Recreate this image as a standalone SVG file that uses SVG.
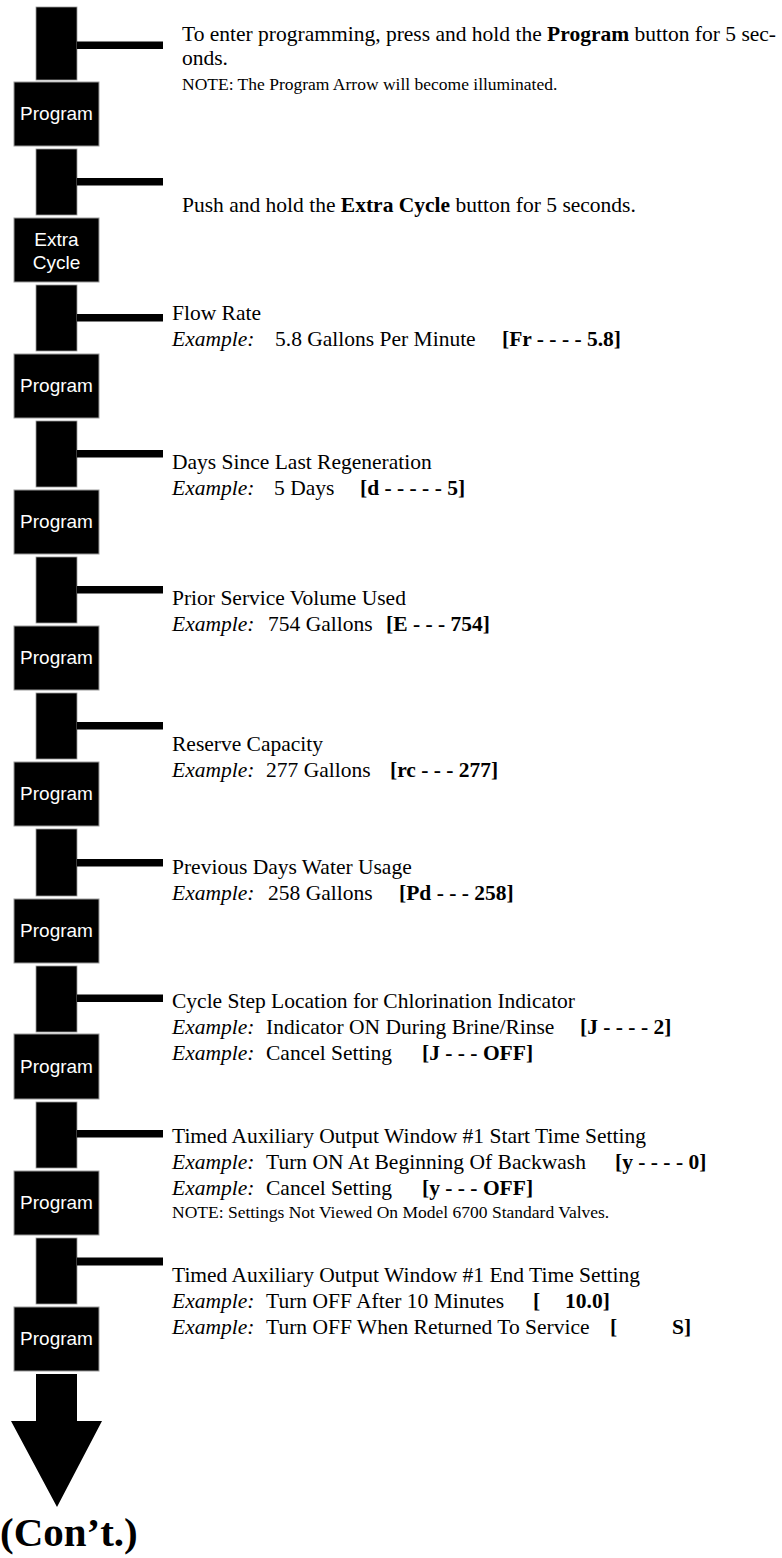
<svg xmlns="http://www.w3.org/2000/svg" width="782" height="1558" viewBox="0 0 782 1558">
<style>
.stem{fill:#000;stroke:#999;stroke-width:0.8}
.box{fill:#000;stroke:#999;stroke-width:1}
.bar{fill:#000}
.btn{font-family:"Liberation Sans",Arial,sans-serif;font-size:19px;fill:#fff;text-anchor:middle}
.t{font-family:"Liberation Serif","Times New Roman",serif;font-size:21.5px;fill:#000}
.n{font-family:"Liberation Serif","Times New Roman",serif;font-size:17.5px;fill:#000}
.i{font-style:italic}
.b{font-weight:bold}
</style>
<rect width="782" height="1558" fill="#fff"/>
<g id="connectors">
<rect class="stem" x="36" y="7" width="41" height="73"/>
<rect class="bar" x="77" y="41.5" width="86" height="7.5"/>
<rect class="stem" x="36" y="149" width="41" height="66"/>
<rect class="bar" x="77" y="178" width="86" height="7.5"/>
<rect class="stem" x="36" y="285" width="41" height="66"/>
<rect class="bar" x="77" y="314" width="86" height="7.5"/>
<rect class="stem" x="36" y="421" width="41" height="66"/>
<rect class="bar" x="77" y="450" width="86" height="7.5"/>
<rect class="stem" x="36" y="557" width="41" height="66"/>
<rect class="bar" x="77" y="586" width="86" height="7.5"/>
<rect class="stem" x="36" y="693" width="41" height="66"/>
<rect class="bar" x="77" y="722" width="86" height="7.5"/>
<rect class="stem" x="36" y="829" width="41" height="67"/>
<rect class="bar" x="77" y="859" width="86" height="7.5"/>
<rect class="stem" x="36" y="966" width="41" height="66"/>
<rect class="bar" x="77" y="994.5" width="86" height="7.5"/>
<rect class="stem" x="36" y="1102" width="41" height="66"/>
<rect class="bar" x="77" y="1130" width="86" height="7.5"/>
<rect class="stem" x="36" y="1238" width="41" height="66"/>
<rect class="bar" x="77" y="1257.5" width="86" height="8"/>
<path d="M36,1374 H77 V1421 H102 L57,1507 L11,1421 H36 Z" fill="#000"/>
</g>
<g id="btn1"><rect class="box" x="14" y="82" width="85" height="64"/><text class="btn" x="56.5" y="120">Program</text></g>
<g id="btn2"><rect class="box" x="14" y="218" width="85" height="64"/><text class="btn" x="56.5" y="246">Extra</text><text class="btn" x="56.5" y="269">Cycle</text></g>
<g id="btn3"><rect class="box" x="14" y="354" width="85" height="64"/><text class="btn" x="56.5" y="392">Program</text></g>
<g id="btn4"><rect class="box" x="14" y="490" width="85" height="64"/><text class="btn" x="56.5" y="528">Program</text></g>
<g id="btn5"><rect class="box" x="14" y="626" width="85" height="64"/><text class="btn" x="56.5" y="664">Program</text></g>
<g id="btn6"><rect class="box" x="14" y="762" width="85" height="64"/><text class="btn" x="56.5" y="800">Program</text></g>
<g id="btn7"><rect class="box" x="14" y="899" width="85" height="64"/><text class="btn" x="56.5" y="937">Program</text></g>
<g id="btn8"><rect class="box" x="14" y="1034" width="85" height="65"/><text class="btn" x="56.5" y="1073">Program</text></g>
<g id="btn9"><rect class="box" x="14" y="1171" width="85" height="64"/><text class="btn" x="56.5" y="1209">Program</text></g>
<g id="btn10"><rect class="box" x="14" y="1307" width="85" height="64"/><text class="btn" x="56.5" y="1345">Program</text></g>
<g id="step1">
<text class="t" x="182" y="41" font-size="20.2">To enter programming, press and hold the <tspan class="b">Program</tspan> button for 5 sec-</text>
<text class="t" x="182" y="65" font-size="20.2">onds.</text>
<text class="n" x="182" y="90">NOTE: The Program Arrow will become illuminated.</text>
</g>
<g id="step2"><text class="t" x="182" y="212">Push and hold the <tspan class="b">Extra Cycle</tspan> button for 5 seconds.</text></g>
<g id="step3">
<text class="t" x="172" y="320">Flow Rate</text>
<text class="t" x="172" y="346"><tspan class="i">Example:</tspan><tspan x="275">5.8 Gallons Per Minute</tspan><tspan class="b" x="502">[Fr - - - - 5.8]</tspan></text>
</g>
<g id="step4">
<text class="t" x="172" y="469">Days Since Last Regeneration</text>
<text class="t" x="172" y="495"><tspan class="i">Example:</tspan><tspan x="274">5 Days</tspan><tspan class="b" x="360">[d - - - - - 5]</tspan></text>
</g>
<g id="step5">
<text class="t" x="172" y="605">Prior Service Volume Used</text>
<text class="t" x="172" y="631"><tspan class="i">Example:</tspan><tspan x="268">754 Gallons</tspan><tspan class="b" x="386">[E - - - 754]</tspan></text>
</g>
<g id="step6">
<text class="t" x="172" y="751">Reserve Capacity</text>
<text class="t" x="172" y="777"><tspan class="i">Example:</tspan><tspan x="266">277 Gallons</tspan><tspan class="b" x="390">[rc - - - 277]</tspan></text>
</g>
<g id="step7">
<text class="t" x="172" y="874">Previous Days Water Usage</text>
<text class="t" x="172" y="900"><tspan class="i">Example:</tspan><tspan x="268">258 Gallons</tspan><tspan class="b" x="399">[Pd - - - 258]</tspan></text>
</g>
<g id="step8">
<text class="t" x="172" y="1008">Cycle Step Location for Chlorination Indicator</text>
<text class="t" x="172" y="1034"><tspan class="i">Example:</tspan><tspan x="266">Indicator ON During Brine/Rinse</tspan><tspan class="b" x="580">[J - - - - 2]</tspan></text>
<text class="t" x="172" y="1060"><tspan class="i">Example:</tspan><tspan x="266">Cancel Setting</tspan><tspan class="b" x="422">[J - - - OFF]</tspan></text>
</g>
<g id="step9">
<text class="t" x="172" y="1143">Timed Auxiliary Output Window #1 Start Time Setting</text>
<text class="t" x="172" y="1169"><tspan class="i">Example:</tspan><tspan x="266">Turn ON At Beginning Of Backwash</tspan><tspan class="b" x="615">[y - - - - 0]</tspan></text>
<text class="t" x="172" y="1195"><tspan class="i">Example:</tspan><tspan x="266">Cancel Setting</tspan><tspan class="b" x="422">[y - - - OFF]</tspan></text>
<text class="n" x="172" y="1218">NOTE: Settings Not Viewed On Model 6700 Standard Valves.</text>
</g>
<g id="step10">
<text class="t" x="172" y="1282">Timed Auxiliary Output Window #1 End Time Setting</text>
<text class="t" x="172" y="1308"><tspan class="i">Example:</tspan><tspan x="266">Turn OFF After 10 Minutes</tspan><tspan class="b" x="533">[</tspan><tspan class="b" x="565">10.0]</tspan></text>
<text class="t" x="172" y="1334"><tspan class="i">Example:</tspan><tspan x="266">Turn OFF When Returned To Service</tspan><tspan class="b" x="610">[</tspan><tspan class="b" x="672">S]</tspan></text>
</g>
<g id="cont"><text x="0" y="1546" font-family="Liberation Serif,'Times New Roman',serif" font-size="41" font-weight="bold">(Con’t.)</text></g>
</svg>
